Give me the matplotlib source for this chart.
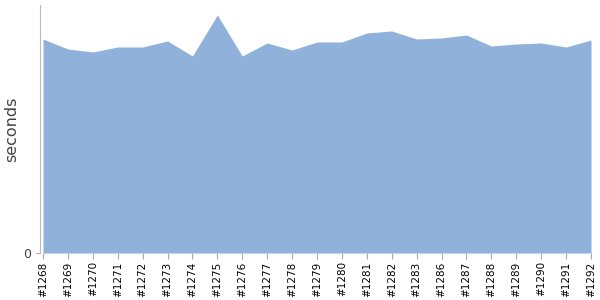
import matplotlib
matplotlib.use("Agg")
import matplotlib.pyplot as plt

# build ids and their timings
builds = ['#1268', '#1269', '#1270', '#1271', '#1272', '#1273', '#1274', '#1275',
          '#1276', '#1277', '#1278', '#1279', '#1280', '#1281', '#1282', '#1283',
          '#1286', '#1287', '#1288', '#1289', '#1290', '#1291', '#1292']
seconds = [214, 204, 201, 206, 206, 212, 197, 238, 197, 210, 203, 211, 211,
           220, 222, 214, 215, 218, 207, 209, 210, 206, 213]

fig = plt.figure(figsize=(6, 3), dpi=100)
ax = fig.add_axes([40 / 600, 47 / 300, 551 / 600, 248 / 300])

x = list(range(len(builds)))
ax.fill_between(x, 0, seconds, color='#8fb1da', linewidth=0)

ax.set_xlim(-0.12, len(builds) - 1)
ax.set_ylim(0, 248)
ax.set_xticks(x)
ax.set_xticklabels(builds, rotation=90, fontsize=7.5, color='black')
ax.set_yticks([0])
ax.set_yticklabels(['0'], fontsize=9, color='#444444')
ax.set_ylabel('seconds', fontsize=11.5, color='#444444')
ax.yaxis.set_label_coords(-0.037, 0.5)

for side in ['top', 'right', 'bottom']:
    ax.spines[side].set_visible(False)
ax.spines['left'].set_color('#bbbbbb')
ax.tick_params(axis='x', colors='#aaaaaa', length=4, labelcolor='black', pad=2)
ax.tick_params(axis='y', colors='#aaaaaa', length=3, labelcolor='#444444')

fig.savefig('out.png', dpi=100)
